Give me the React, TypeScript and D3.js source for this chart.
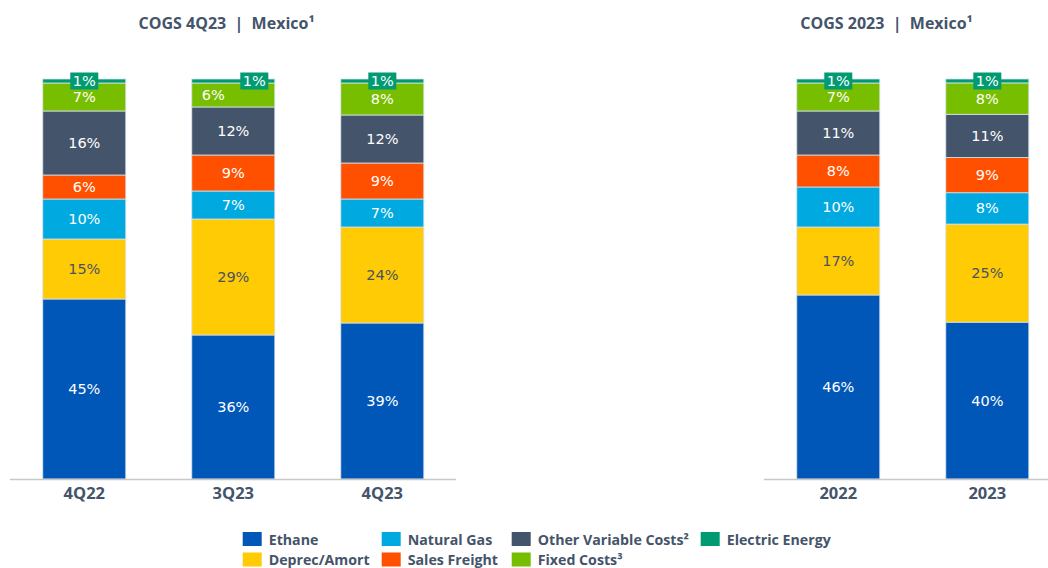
import React from "react";
import * as d3 from "d3";

const series = ["Ethane", "Deprec/Amort", "Natural Gas", "Sales Freight", "Other Variable Costs²", "Fixed Costs³", "Electric Energy"];
const colors = ["#0057b8", "#ffcb05", "#00a9e0", "#ff5000", "#44546a", "#78be00", "#009a73"];

const quarterCats = ["4Q22", "3Q23", "4Q23"];
const yearCats = ["2022", "2023"];

const ethane = [45, 36, 39, 46, 40];
const deprec = [15, 29, 24, 17, 25];
const natGas = [10, 7, 7, 10, 8];
const freight = [6, 9, 9, 8, 9];
const otherVar = [16, 12, 12, 11, 11];
const fixedCosts = [7, 6, 8, 7, 8];
const electric = [1, 1, 1, 1, 1];

const titles = ["COGS 4Q23  |  Mexico¹", "COGS 2023  |  Mexico¹"];

const legendRow1 = ["Ethane", "Natural Gas", "Other Variable Costs²", "Electric Energy"];
const legendRow2 = ["Deprec/Amort", "Sales Freight", "Fixed Costs³"];

const allCats = [...quarterCats, ...yearCats];
const valuesBySeries = [ethane, deprec, natGas, freight, otherVar, fixedCosts, electric];

type Row = { cat: string; [k: string]: any };
const rows: Row[] = allCats.map((c, i) => {
  const r: Row = { cat: c };
  series.forEach((s, j) => (r[s] = valuesBySeries[j][i]));
  return r;
});

const W = 1048;
const H = 568;
const LABEL_FONT = "'DejaVu Sans', Verdana, sans-serif";
const UI_FONT = "'Open Sans', 'Noto Sans', sans-serif";
const TEXT = "#44546a";

const y = d3.scaleLinear().domain([0, 1]).range([479, 79]);
const stack = d3.stack<Row>().keys(series).offset(d3.stackOffsetExpand);
const stacked = stack(rows);

const xLeft = d3.scaleBand().domain(quarterCats).range([10, 456.6]).paddingInner(0.443).paddingOuter(0.22);
const xRight = d3.scaleBand().domain(yearCats).range([764, 1061.6]).paddingInner(0.443).paddingOuter(0.22);

function xFor(cat: string) {
  return quarterCats.includes(cat) ? xLeft : xRight;
}

export default function App() {
  const colorOf = d3.scaleOrdinal<string, string>().domain(series).range(colors);
  const legendX = [242.7, 381.7, 511.7, 700.7];
  return (
    <svg width={W} height={H} style={{ position: "absolute", left: 0, top: 0, background: "#fff" }}>
      {/* titles */}
      <text x={226.5} y={28.5} textAnchor="middle" fontFamily={UI_FONT} fontSize={16} fontWeight="bold" fill={TEXT} style={{ whiteSpace: "pre" }}>{titles[0]}</text>
      <text x={886.5} y={28.5} textAnchor="middle" fontFamily={UI_FONT} fontSize={16} fontWeight="bold" fill={TEXT} style={{ whiteSpace: "pre" }}>{titles[1]}</text>

      {/* bars */}
      {stacked.map((layer) => (
        <g key={layer.key}>
          {layer.map((d) => {
            const cat = d.data.cat;
            const xs = xFor(cat);
            return (
              <rect key={cat} x={xs(cat)!} y={y(d[1])} width={xs.bandwidth()} height={y(d[0]) - y(d[1])}
                fill={colorOf(layer.key)} stroke="#d6e2ee" strokeWidth={0.8} />
            );
          })}
        </g>
      ))}

      {/* labels */}
      {stacked.map((layer) => (
        <g key={"l" + layer.key} fontFamily={LABEL_FONT}>
          {layer.map((d) => {
            const cat = d.data.cat;
            const xs = xFor(cat);
            const cx = xs(cat)! + xs.bandwidth() / 2;
            const v = d.data[layer.key] as number;
            const label = v + "%";
            if (layer.key === "Electric Energy") {
              const bx = cx + (cat === "3Q23" ? 21 : 0);
              const ty = y(d[1]) + 2;
              return (
                <g key={cat}>
                  <rect x={bx - 14} y={ty - 8.5} width={28} height={17} fill={colorOf(layer.key)} />
                  <text x={bx} y={ty} textAnchor="middle" dominantBaseline="central" fontSize={14.5} fill="#fff">{label}</text>
                </g>
              );
            }
            let lx = cx;
            const ly = (y(d[0]) + y(d[1])) / 2;
            if (layer.key === "Fixed Costs³" && cat === "3Q23") lx = cx - 20;
            const fill = layer.key === "Deprec/Amort" ? "#4b5262" : "#fff";
            return (
              <text key={cat} x={lx} y={ly} textAnchor="middle" dominantBaseline="central" fontSize={14.5} fill={fill}>{label}</text>
            );
          })}
        </g>
      ))}

      {/* axes */}
      <line x1={10} x2={456} y1={479.5} y2={479.5} stroke="#c8c8c8" strokeWidth={1.5} />
      <line x1={764} x2={W} y1={479.5} y2={479.5} stroke="#c8c8c8" strokeWidth={1.5} />
      {quarterCats.map((c) => (
        <text key={c} x={xLeft(c)! + xLeft.bandwidth() / 2} y={499.3} textAnchor="middle" fontFamily={UI_FONT} fontSize={16.5} fontWeight="bold" fill={TEXT}>{c}</text>
      ))}
      {yearCats.map((c) => (
        <text key={c} x={xRight(c)! + xRight.bandwidth() / 2} y={499.3} textAnchor="middle" fontFamily={UI_FONT} fontSize={16.5} fontWeight="bold" fill={TEXT}>{c}</text>
      ))}

      {/* legend */}
      {[legendRow1, legendRow2].map((row, ri) =>
        row.map((name, i) => {
          const cy = ri === 0 ? 539 : 559.5;
          return (
            <g key={name}>
              <rect x={legendX[i]} y={cy - 7} width={19} height={14} fill={colorOf(name)} />
              <text x={legendX[i] + 26} y={cy} dominantBaseline="central" fontFamily={UI_FONT} fontSize={14.2} fontWeight="bold" fill={TEXT}>{name}</text>
            </g>
          );
        })
      )}
    </svg>
  );
}
